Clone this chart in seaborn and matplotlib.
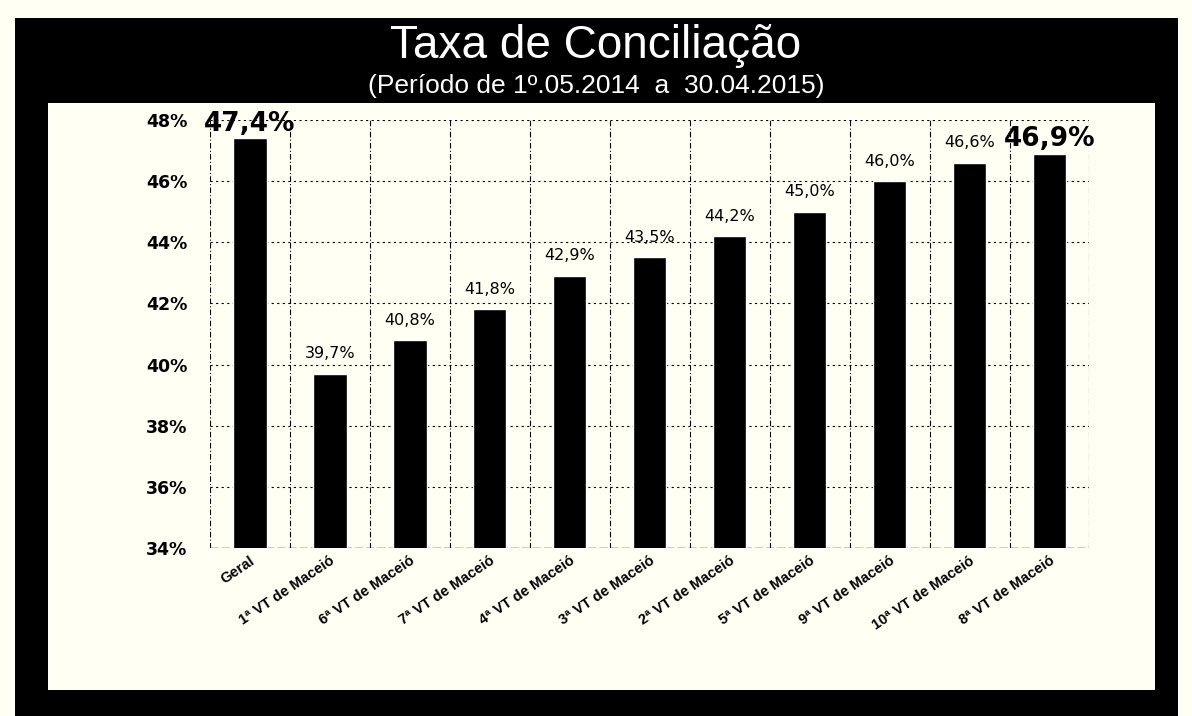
import numpy as np
import pandas as pd
import matplotlib
matplotlib.use("Agg")
import matplotlib.pyplot as plt
import seaborn as sns
from matplotlib.patches import Rectangle

# chart values
varas = ["Geral", "1ª VT de Maceió", "6ª VT de Maceió", "7ª VT de Maceió",
         "4ª VT de Maceió", "3ª VT de Maceió", "2ª VT de Maceió",
         "5ª VT de Maceió", "9ª VT de Maceió", "10ª VT de Maceió",
         "8ª VT de Maceió"]
taxa = [47.4, 39.7, 40.8, 41.8, 42.9, 43.5, 44.2, 45.0, 46.0, 46.6, 46.9]
destaque = ["Geral", "8ª VT de Maceió"]
y_ticks = [34, 36, 38, 40, 42, 44, 46, 48]

paper = "#fffff4"

sns.set_style("white")
plt.rcParams['font.family'] = ['Liberation Sans', 'DejaVu Sans']
plt.rcParams['text.color'] = "black"
plt.rcParams['xtick.color'] = "black"
plt.rcParams['ytick.color'] = "black"

df = pd.DataFrame({"vara": varas, "taxa": taxa})

fig = plt.figure(figsize=(11.92, 7.16), dpi=100, facecolor=paper)

# black frame and white inner panel
fig.add_artist(Rectangle((0.0126, 0.0), 0.976, 0.975, transform=fig.transFigure,
                         facecolor="black", edgecolor="none", zorder=-10))
fig.add_artist(Rectangle((0.040, 0.036), 0.929, 0.820, transform=fig.transFigure,
                         facecolor=paper, edgecolor="none", zorder=-9))

fig.text(0.5, 0.936, "Taxa de Conciliação", color="white", fontsize=33,
         ha="center", va="center")
fig.text(0.5, 0.880, "(Período de 1º.05.2014  a  30.04.2015)", color="white",
         fontsize=19, ha="center", va="center")

ax = fig.add_axes([0.176, 0.2346, 0.738, 0.598])
ax.set_facecolor("none")

sns.barplot(data=df, x="vara", y="taxa", color="black", width=0.42,
            saturation=1, ax=ax)

ax.set_ylim(34, 48)
ax.set_xlim(-0.5, len(varas) - 0.5)
ax.set_yticks(y_ticks)
ax.set_yticklabels([f"{t}%" for t in y_ticks], fontsize=12.5,
                   fontweight="bold", family="DejaVu Sans")
ax.tick_params(axis="y", length=0, pad=16)
ax.tick_params(axis="x", length=0, pad=4)
ax.set_xticks(range(len(varas)))
ax.set_xticklabels(varas, rotation=34, ha="right", rotation_mode="anchor",
                   fontsize=10.5, fontweight="bold")
ax.set_xlabel("")
ax.set_ylabel("")
for s in ax.spines.values():
    s.set_visible(False)

# grid: dotted horizontals, dashed verticals between categories
for t in y_ticks[1:]:
    ax.axhline(t, color="black", lw=0.8, ls=(0, (2, 3)), zorder=0)
ax.axhline(34, color="black", lw=1.0, ls=(0, (6, 2)), zorder=0)
for k in range(len(varas) + 1):
    ax.axvline(k - 0.5, color="black", lw=0.8, ls=(0, (5, 2, 1, 2)), zorder=0)

# value labels
for i, (v, t) in enumerate(zip(varas, taxa)):
    txt = f"{t:.1f}%".replace(".", ",")
    if v in destaque:
        ax.annotate(txt, (i, t), xytext=(0, 1), textcoords="offset points",
                    ha="center", va="bottom", fontsize=19, fontweight="bold",
                    family="DejaVu Sans")
    else:
        ax.annotate(txt, (i, t), xytext=(0, 9), textcoords="offset points",
                    ha="center", va="bottom", fontsize=11.5,
                    family="DejaVu Sans")

fig.savefig("out.png", dpi=100, facecolor=paper)
